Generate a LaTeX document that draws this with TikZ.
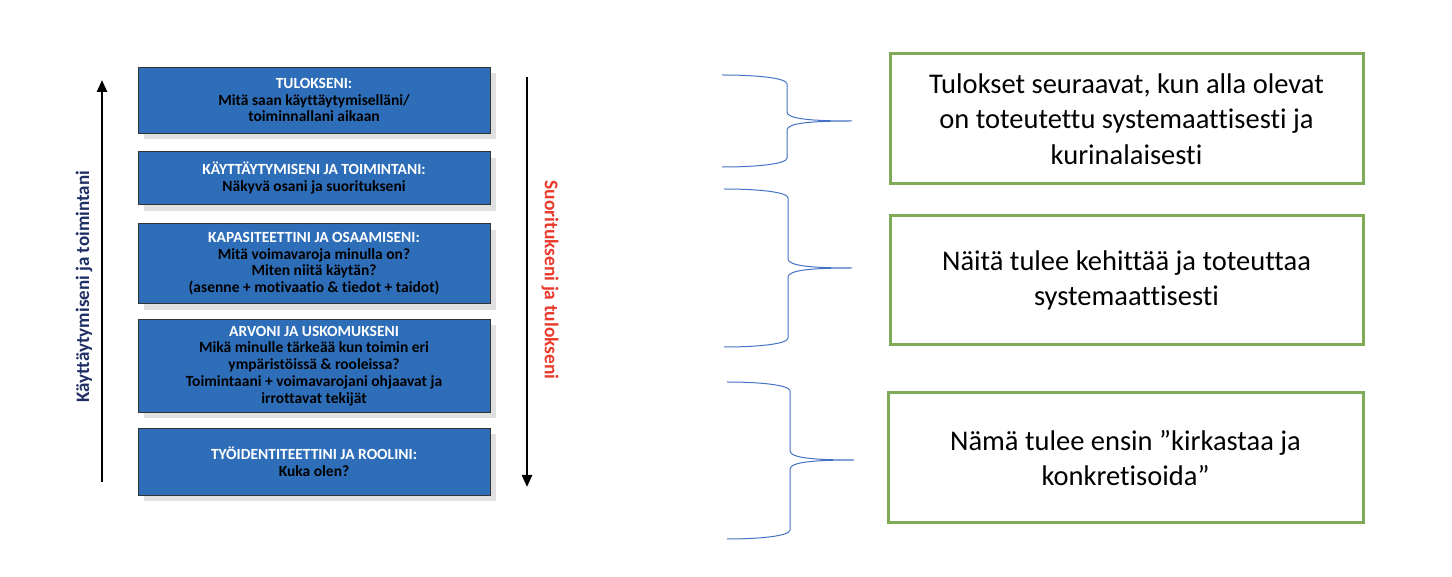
\documentclass[tikz,border=0pt]{standalone}
\usepackage{fontspec}
\setmainfont{Carlito}[Ligatures=NoCommon]
\usetikzlibrary{positioning, arrows.meta, shadows}
\definecolor{laatikko}{HTML}{2E6EB9}
\definecolor{vihrea}{HTML}{7FAA56}
\definecolor{sulku}{HTML}{4472C4}
\definecolor{tummasin}{HTML}{1F2F66}
\definecolor{punainen}{HTML}{EA3A2C}

% aaltosulku: vasen x, keski x, karki x, yla y, karki y, ala y
\newcommand{\kaarisulku}[6]{%
    \draw[sulkuviiva] (#1,#4) .. controls (#2-30,#4) and (#2,#4-3) .. (#2,#4-9)
        -- (#2,#5+9) .. controls (#2,#5+2) and (#2+25,#5) .. (#3,#5)
        .. controls (#2+25,#5) and (#2,#5-2) .. (#2,#5-9)
        -- (#2,#6+9) .. controls (#2,#6+3) and (#2-30,#6) .. (#1,#6);
}

\begin{document}
\begin{tikzpicture}[x=1pt,y=1pt,
        taso/.style={draw=black!80, line width=0.8pt, fill=laatikko, minimum width=352pt,
            align=center, inner sep=2pt, font=\fontsize{15.5}{16.8}\selectfont\bfseries,
            drop shadow={shadow xshift=6pt, shadow yshift=-6pt, fill=black!12, opacity=1}},
        selite/.style={draw=vihrea, line width=3pt, fill=white, minimum width=473pt,
            minimum height=130pt, align=center, font=\fontsize{28.5}{35.5}\selectfont},
        nuoli/.style={line width=2.4pt, -{Triangle[length=12pt,width=10pt]}},
        sulkuviiva/.style={line width=1pt, draw=sulku}]
    \useasboundingbox (0,0) rectangle (1452,576);

    % tasot
    \node[taso, minimum height=66pt] (tulos) at (314,476)
        {\textcolor{white}{TULOKSENI:}\\Mitä saan käyttäytymiselläni/\\toiminnallani aikaan};
    \node[taso, minimum height=53pt, below=18pt of tulos] (toiminta)
        {\textcolor{white}{KÄYTTÄYTYMISENI JA TOIMINTANI:}\\Näkyvä osani ja suoritukseni};
    \node[taso, minimum height=80pt, below=18pt of toiminta] (kapasiteetti)
        {\textcolor{white}{KAPASITEETTINI JA OSAAMISENI:}\\Mitä voimavaroja minulla on?\\Miten niitä käytän?\\(asenne + motivaatio \& tiedot + taidot)};
    \node[taso, minimum height=93pt, below=15pt of kapasiteetti] (arvot)
        {\textcolor{white}{ARVONI JA USKOMUKSENI}\\Mikä minulle tärkeää kun toimin eri\\ympäristöissä \& rooleissa?\\Toimintaani + voimavarojani ohjaavat ja\\irrottavat tekijät};
    \node[taso, minimum height=67pt, below=15pt of arvot] (identiteetti)
        {\textcolor{white}{TYÖIDENTITEETTINI JA ROOLINI:}\\Kuka olen?};

    % nuolet
    \coordinate (ylos-a) at (102,94);
    \coordinate (ylos-b) at (102,496);
    \coordinate (alas-a) at (527,499);
    \coordinate (alas-b) at (527,89);
    \draw[nuoli] (ylos-a) -- (ylos-b);
    \draw[nuoli] (alas-a) -- (alas-b);
    \node[rotate=90, text=tummasin, font=\fontsize{19}{22}\selectfont\bfseries] (vasen) at (84,289)
        {Käyttäytymiseni ja toimintani};
    \node[rotate=-90, text=punainen, font=\fontsize{19.5}{22}\selectfont\bfseries] (oikea) at (550,296)
        {Suoritukseni ja tulokseni};

    % sulut
    \kaarisulku{722}{787}{852}{501}{455}{409}
    \kaarisulku{724}{788}{852}{387}{308}{229}
    \kaarisulku{727}{790}{854}{194}{116}{37}

    % selitteet
    \node[selite] (seuraa) at (1126.5,457)
        {Tulokset seuraavat, kun alla olevat\\on toteutettu systemaattisesti ja\\kurinalaisesti};
    \node[selite, minimum height=129pt] (kehita) at (1126.5,295.5)
        {Näitä tulee kehittää ja toteuttaa\\systemaattisesti};
    \node[selite, minimum width=475pt] (kirkasta) at (1125.5,118)
        {Nämä tulee ensin ”kirkastaa ja\\konkretisoida”};
\end{tikzpicture}
\end{document}
